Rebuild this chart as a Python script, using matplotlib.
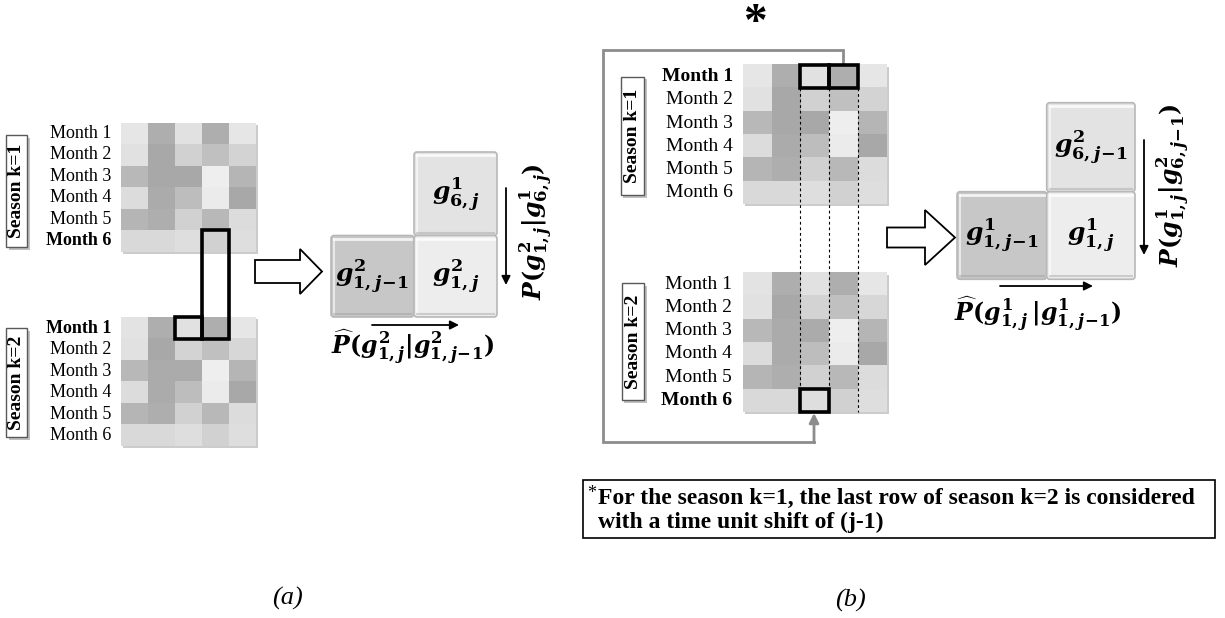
import numpy as np
import matplotlib
matplotlib.use("Agg")
import matplotlib.pyplot as plt
from matplotlib.patches import Rectangle, FancyArrow, FancyBboxPatch
import matplotlib.patheffects as pe

plt.rcParams["mathtext.fontset"] = "custom"
plt.rcParams["mathtext.it"] = "DejaVu Serif:italic:bold"
plt.rcParams["mathtext.rm"] = "DejaVu Serif:bold"
plt.rcParams["mathtext.bf"] = "DejaVu Serif:bold"

SERIF = "Liberation Serif"

# grey level per (month, column) of each season grid, 1 = white
season1 = np.array([
    [0.90, 0.68, 0.88, 0.68, 0.90],
    [0.88, 0.66, 0.82, 0.75, 0.83],
    [0.72, 0.66, 0.66, 0.93, 0.71],
    [0.86, 0.67, 0.74, 0.92, 0.66],
    [0.71, 0.68, 0.82, 0.72, 0.86],
    [0.85, 0.85, 0.87, 0.82, 0.87],
])
season2 = np.array([
    [0.89, 0.68, 0.88, 0.68, 0.90],
    [0.88, 0.66, 0.83, 0.75, 0.84],
    [0.72, 0.67, 0.67, 0.93, 0.71],
    [0.86, 0.67, 0.74, 0.92, 0.66],
    [0.71, 0.68, 0.82, 0.72, 0.86],
    [0.85, 0.85, 0.87, 0.82, 0.87],
])
months = ["Month 1", "Month 2", "Month 3", "Month 4", "Month 5", "Month 6"]

# tile shades of the transition diagrams
tiles_a = {"top": 0.89, "left": 0.78, "right": 0.93}
tiles_b = {"top": 0.89, "left": 0.78, "right": 0.93}

fig = plt.figure(figsize=(12.25, 6.18), dpi=100)
ax = fig.add_axes([0, 0, 1, 1])
ax.set_xlim(0, 1225)
ax.set_ylim(618, 0)
ax.axis("off")


def grid(x0, y0, w, h, vals, label_x, bold_row, fs):
    # soft drop shadow under the grid
    ax.add_patch(Rectangle((x0 + 2, y0 + 2), w, h, fc="0.8", ec="none", zorder=1))
    ax.imshow(vals, cmap="gray", vmin=0, vmax=1, interpolation="nearest",
              extent=(x0, x0 + w, y0 + h, y0), zorder=2)
    rh = h / len(months)
    for i, m in enumerate(months):
        ax.text(label_x, y0 + rh * (i + 0.5), m, ha="right", va="center",
                family=SERIF, fontsize=fs,
                fontweight="bold" if i == bold_row else "normal")


def season_tag(x0, x1, y0, y1, season, fs=14):
    r = Rectangle((x0, y0), x1 - x0, y1 - y0, fc="white", ec="0.35", lw=1, zorder=3)
    r.set_path_effects([pe.SimplePatchShadow(offset=(2, -2), alpha=0.35), pe.Normal()])
    ax.add_patch(r)
    ax.text((x0 + x1) / 2 + 0.5, (y0 + y1) / 2, f"Season k={season}", rotation=90,
            ha="center", va="center", family=SERIF, fontsize=fs, fontweight="bold", zorder=4)


def cell(x0, y0, w, h, lw=2.6):
    ax.add_patch(Rectangle((x0, y0), w, h, fill=False, ec="black", lw=lw, zorder=5))


def tile(x0, y0, w, h, shade, tex, fs=18):
    ax.add_patch(FancyBboxPatch((x0, y0), w, h, boxstyle="round,pad=0,rounding_size=3",
                                fc=str(shade), ec="0.72", lw=1.2, zorder=3))
    # bevel highlights
    ax.plot([x0 + 3, x0 + w - 3], [y0 + 3, y0 + 3], color="white", lw=2, alpha=0.8, zorder=4)
    ax.plot([x0 + 3, x0 + 3], [y0 + 3, y0 + h - 3], color="white", lw=1.5, alpha=0.6, zorder=4)
    ax.plot([x0 + 3, x0 + w - 3], [y0 + h - 3, y0 + h - 3], color="0.6", lw=1.5, alpha=0.4, zorder=4)
    ax.text(x0 + w / 2, y0 + h / 2, tex, ha="center", va="center", fontsize=fs, zorder=6)


def arrow(x0, y0, x1, y1):
    ax.annotate("", xy=(x1, y1), xytext=(x0, y0),
                arrowprops=dict(arrowstyle="-|>", color="black", lw=1.3,
                                mutation_scale=13, shrinkA=0, shrinkB=0))


# ---------------- panel (a) ----------------
cw_a, rh_a = 27.0, 21.5
grid(121, 122.7, cw_a * 5, rh_a * 6, season1, 111, 5, 13)
grid(121, 317.3, cw_a * 5, rh_a * 6, season2, 111, 0, 13)
season_tag(6, 27, 135, 247, 1)
season_tag(6, 27, 328, 437, 2)
cell(121 + cw_a * 3, 122.7 + rh_a * 5, cw_a, 317.3 + rh_a - (122.7 + rh_a * 5))
cell(121 + cw_a * 2, 317.3, cw_a, rh_a)

ax.add_patch(FancyArrow(255, 271.5, 67, 0, width=23, head_width=45, head_length=22,
                        length_includes_head=True, fc="white", ec="black", lw=1.3, zorder=3))

tile(414, 152, 83, 83.5, tiles_a["top"], r"$g^{1}_{6,j}$")
tile(331, 235.5, 83, 81.5, tiles_a["left"], r"$g^{2}_{1,j\!-\!1}$")
tile(414, 235.5, 83, 81.5, tiles_a["right"], r"$g^{2}_{1,j}$")

arrow(506, 188, 506, 285)
ax.text(536, 232, r"$P(g^{2}_{1,j}|g^{1}_{6,j})$", rotation=90, ha="center", va="center",
        fontsize=17)
arrow(372, 325, 459, 325)
ax.text(413, 347, r"$\widehat{P}(g^{2}_{1,j}|g^{2}_{1,j\!-\!1})$", ha="center", va="center",
        fontsize=17)

ax.text(287, 598, "(a)", ha="center", va="center", family=SERIF, style="italic", fontsize=19)

# ---------------- panel (b) ----------------
cw_b, rh_b = 28.8, 23.2
gx = 742.7
grid(gx, 65, cw_b * 5, rh_b * 6, season1, 733, 0, 14)
grid(gx, 272.7, cw_b * 5, rh_b * 6, season2, 732, 5, 14)
season_tag(620.7, 644, 76.7, 195, 1)
season_tag(621.7, 644, 283, 400, 2)

# column guides linking the two seasons
for k in (2, 3, 4):
    xx = gx + cw_b * k
    ax.plot([xx, xx], [65 + rh_b, 272.7 + rh_b * 6], color="black", lw=0.8,
            ls=(0, (2.5, 2.5)), zorder=4)
cell(gx + cw_b * 2, 65, cw_b, rh_b)
cell(gx + cw_b * 3, 65, cw_b, rh_b)
cell(gx + cw_b * 2, 272.7 + rh_b * 5, cw_b, rh_b)

# wrap-around connector from season 1 top to season 2 last row
ax.plot([842.7, 842.7, 602.7, 602.7, 814], [63, 50, 50, 441.7, 441.7],
        color="0.55", lw=2, solid_joinstyle="miter", zorder=1)
ax.annotate("", xy=(814, 413), xytext=(814, 442.7),
            arrowprops=dict(arrowstyle="-|>", color="0.55", lw=2, mutation_scale=14,
                            shrinkA=0, shrinkB=0))
ax.text(755, 24, "*", ha="center", va="center", family=SERIF, fontweight="bold", fontsize=34)

ax.add_patch(FancyArrow(887, 237.5, 68, 0, width=20, head_width=55, head_length=30,
                        length_includes_head=True, fc="white", ec="black", lw=1.3, zorder=3))

tile(1046.7, 102.7, 88.3, 89, tiles_b["top"], r"$g^{2}_{6,j\!-\!1}$")
tile(957, 191.7, 89.7, 87.6, tiles_b["left"], r"$g^{1}_{1,j\!-\!1}$")
tile(1046.7, 191.7, 88.3, 87.6, tiles_b["right"], r"$g^{1}_{1,j}$")

arrow(1144, 140, 1144, 255)
ax.text(1173, 185, r"$P(g^{1}_{1,j}|g^{2}_{6,j\!-\!1})$", rotation=90, ha="center", va="center",
        fontsize=17)
arrow(1000, 286, 1093, 286)
ax.text(1038, 314, r"$\widehat{P}(g^{1}_{1,j}\,|g^{1}_{1,j\!-\!1})$", ha="center", va="center",
        fontsize=17)

# footnote
ax.add_patch(Rectangle((583, 480), 632, 58, fill=False, ec="black", lw=1.2))
ax.text(587, 494, "*", ha="left", va="center", family=SERIF, fontsize=13)
ax.text(598, 498, "For the season k=1, the last row of season k=2 is considered",
        ha="left", va="center", family=SERIF, fontweight="bold", fontsize=17)
ax.text(598, 522, "with a time unit shift of (j-1)",
        ha="left", va="center", family=SERIF, fontweight="bold", fontsize=17)

ax.text(850, 600, "(b)", ha="center", va="center", family=SERIF, style="italic", fontsize=19)

fig.savefig("out.png", dpi=100)
